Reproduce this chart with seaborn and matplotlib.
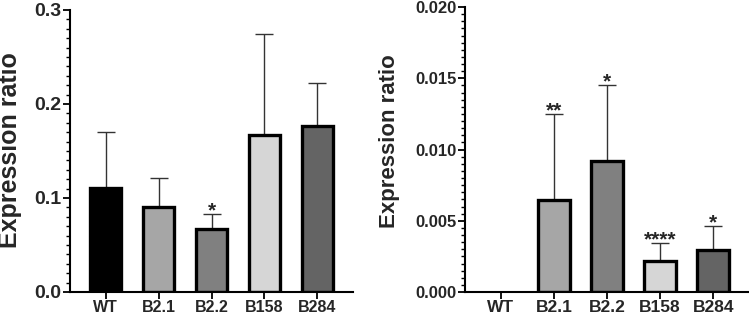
import numpy as np
import pandas as pd
import matplotlib
matplotlib.use('Agg')
import matplotlib.pyplot as plt
from matplotlib.ticker import MultipleLocator, FormatStrFormatter
import seaborn as sns

# Data
strains = ['WT', 'B2.1', 'B2.2', 'B158', 'B284']
bar_colors = ['#000000', '#a6a6a6', '#808080', '#d6d6d6', '#646464']

left_mean = [0.111, 0.090, 0.067, 0.167, 0.177]
left_err = [0.059, 0.031, 0.016, 0.107, 0.045]
left_stars = ['', '', '*', '', '']

right_mean = [0.0, 0.00646, 0.0092, 0.00218, 0.00295]
right_err = [0.0, 0.00604, 0.00533, 0.00126, 0.00168]
right_stars = ['', '**', '*', '****', '*']

sns.set_style('ticks')
plt.rcParams['font.family'] = ['Liberation Sans', 'DejaVu Sans']
plt.rcParams['font.weight'] = 'bold'

fig = plt.figure(figsize=(7.49, 3.14), dpi=100)
ax1 = fig.add_axes([70 / 749, 22 / 314, 283 / 749, 282 / 314])
ax2 = fig.add_axes([465 / 749, 22 / 314, 284 / 749, 285 / 314])


def draw_panel(ax, means, errs, stars, ymax, major, minor, fmt,
               ysize, xsize, labsize, label_xy):
    df = pd.DataFrame({'strain': strains, 'ratio': means})
    sns.barplot(data=df, x='strain', y='ratio', hue='strain', palette=bar_colors,
                legend=False, errorbar=None, width=0.6, edgecolor='black',
                linewidth=2.4, ax=ax, zorder=2)
    for p, m in zip(ax.patches, means):
        if m == 0:
            p.set_linewidth(0)
    x = np.arange(len(strains))
    ax.errorbar(x, means, yerr=[np.zeros(len(errs)), errs], fmt='none',
                ecolor='#333333', elinewidth=1.0, capsize=6.5, capthick=1.0, zorder=1)
    for xi, m, e, s in zip(x, means, errs, stars):
        if s:
            ax.annotate(s, (xi, m + e), xytext=(0, -1.5), textcoords='offset points',
                        ha='center', va='baseline', fontsize=15, fontweight='bold')
    ax.set_xlim(-0.67, 4.67)
    ax.set_ylim(0, ymax)
    ax.yaxis.set_major_locator(MultipleLocator(major))
    ax.yaxis.set_minor_locator(MultipleLocator(minor))
    ax.yaxis.set_major_formatter(FormatStrFormatter(fmt))
    ax.set_xlabel('')
    ax.set_ylabel('Expression ratio', fontsize=labsize, fontweight='bold')
    ax.yaxis.set_label_coords(*label_xy)
    ax.tick_params(axis='both', which='major', width=1.3, length=5, color='black')
    ax.tick_params(axis='y', which='major', labelsize=ysize, pad=1)
    ax.tick_params(axis='x', which='major', labelsize=xsize, pad=1)
    ax.tick_params(axis='y', which='minor', width=1.0, length=3, color='black')
    for lab in ax.get_xticklabels() + ax.get_yticklabels():
        lab.set_fontweight('bold')
    for side in ['left', 'bottom']:
        ax.spines[side].set_linewidth(1.5)
        ax.spines[side].set_color('black')
    sns.despine(ax=ax)


draw_panel(ax1, left_mean, left_err, left_stars, 0.3, 0.1, 0.01, '%.1f',
           14, 11.5, 18, (-0.168, 0.504))
draw_panel(ax2, right_mean, right_err, right_stars, 0.020, 0.005, 0.0005, '%.3f',
           12, 12.5, 16, (-0.23, 0.53))

fig.savefig('out.png', dpi=100)
